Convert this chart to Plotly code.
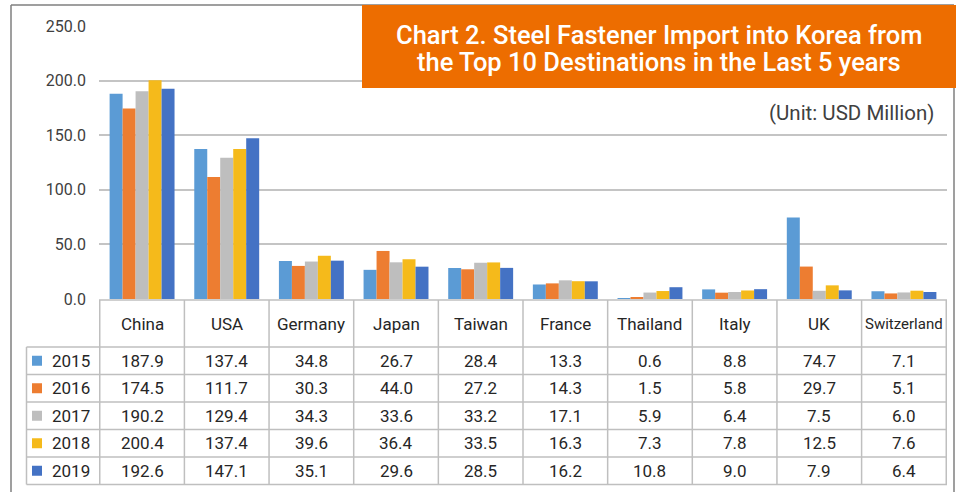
import plotly.graph_objects as go

categories = ["China", "USA", "Germany", "Japan", "Taiwan", "France",
              "Thailand", "Italy", "UK", "Switzerland"]
years = ["2015", "2016", "2017", "2018", "2019"]
v2015 = [187.9, 137.4, 34.8, 26.7, 28.4, 13.3, 0.6, 8.8, 74.7, 7.1]
v2016 = [174.5, 111.7, 30.3, 44.0, 27.2, 14.3, 1.5, 5.8, 29.7, 5.1]
v2017 = [190.2, 129.4, 34.3, 33.6, 33.2, 17.1, 5.9, 6.4, 7.5, 6.0]
v2018 = [200.4, 137.4, 39.6, 36.4, 33.5, 16.3, 7.3, 7.8, 12.5, 7.6]
v2019 = [192.6, 147.1, 35.1, 29.6, 28.5, 16.2, 10.8, 9.0, 7.9, 6.4]
series = [v2015, v2016, v2017, v2018, v2019]
colors = ["#5B9BD5", "#ED7D31", "#BEBEBE", "#F5BA1B", "#4472C4"]
y_ticks = [0, 50, 100, 150, 200, 250]
title_lines = ["Chart 2. Steel Fastener Import into Korea from",
               "the Top 10 Destinations in the Last 5 years"]
unit_text = "(Unit: USD Million)"

W, H = 959, 492
ML, MR, MT, MB = 99, 12, 26, 193
PW = W - ML - MR
PH = H - MT - MB
FONT = "Roboto"
TXT = "#262626"
GRID = "#C4C4C4"


def px(xp):
    return (xp - ML) / PW


def py(yp):
    return (H - MB - yp) / PH


fig = go.Figure()
for yr, vals, c in zip(years, series, colors):
    fig.add_trace(go.Bar(x=categories, y=vals, name=yr, marker_color=c,
                         marker_line_width=0, hoverinfo="skip"))

shapes = []
annotations = []

header_top = 300
row_lines = [347, 374.5, 402, 429.5, 457, 484.5]
label_left = 26.5
lc = dict(color="#BFBFBF", width=1.5)

shapes.append(dict(type="line", xref="paper", yref="paper", x0=0, x1=1,
                   y0=py(header_top), y1=py(header_top), line=lc))
for r in row_lines:
    shapes.append(dict(type="line", xref="paper", yref="paper", x0=px(label_left), x1=1,
                       y0=py(r), y1=py(r), line=lc))
n = len(categories)
for i in range(n + 1):
    shapes.append(dict(type="line", xref="x", yref="paper", x0=i - 0.5, x1=i - 0.5,
                       y0=py(header_top), y1=py(row_lines[-1]), line=lc))
shapes.append(dict(type="line", xref="paper", yref="paper", x0=px(label_left), x1=px(label_left),
                   y0=py(row_lines[0]), y1=py(row_lines[-1]), line=lc))

for cat in categories:
    annotations.append(dict(x=cat, xref="x", y=py((header_top + row_lines[0]) / 2), yref="paper",
                            text=cat, showarrow=False,
                            font=dict(family=FONT, size=15 if cat == "Switzerland" else 17, color=TXT),
                            xanchor="center", yanchor="middle"))
for k, (yr, vals, c) in enumerate(zip(years, series, colors)):
    yc = (row_lines[k] + row_lines[k + 1]) / 2
    shapes.append(dict(type="rect", xref="paper", yref="paper",
                       x0=px(32), x1=px(42), y0=py(yc + 5), y1=py(yc - 5),
                       fillcolor=c, line=dict(width=0)))
    annotations.append(dict(x=px(71), xref="paper", y=py(yc), yref="paper", text=yr,
                            showarrow=False, font=dict(family=FONT, size=17, color=TXT),
                            xanchor="center", yanchor="middle"))
    for cat, v in zip(categories, vals):
        annotations.append(dict(x=cat, xref="x", y=py(yc), yref="paper", text=f"{v:.1f}",
                                showarrow=False, font=dict(family=FONT, size=17, color=TXT),
                                xanchor="center", yanchor="middle"))

fr = dict(color="#7F7F7F", width=1.5)
shapes.append(dict(type="line", xref="paper", yref="paper", x0=px(11), x1=px(11), y0=py(5), y1=py(H + 5), line=fr))
shapes.append(dict(type="line", xref="paper", yref="paper", x0=px(11), x1=px(954), y0=py(5), y1=py(5), line=fr))
shapes.append(dict(type="line", xref="paper", yref="paper", x0=px(954), x1=px(954), y0=py(5), y1=py(H + 5), line=fr))

shapes.append(dict(type="rect", xref="paper", yref="paper", x0=px(362), x1=px(956),
                   y0=py(88), y1=py(5), fillcolor="#ED6D00", line=dict(width=0), layer="above"))
for line_txt, yl in zip(title_lines, [35, 62]):
    annotations.append(dict(x=px(659), xref="paper", y=py(yl), yref="paper", text=line_txt,
                            showarrow=False, font=dict(family=FONT, size=25.5, color="white", weight=500),
                            xanchor="center", yanchor="middle", align="center"))
annotations.append(dict(x=px(936), xref="paper", y=py(113), yref="paper", text=unit_text,
                        showarrow=False, font=dict(family=FONT, size=20.5, color="#404040"),
                        xanchor="right", yanchor="middle"))

fig.update_layout(
    width=W, height=H,
    margin=dict(l=ML, r=MR, t=MT, b=MB, pad=0),
    paper_bgcolor="white", plot_bgcolor="white",
    barmode="group", bargap=0.233, bargroupgap=0,
    showlegend=False,
    xaxis=dict(showticklabels=False, showgrid=False, zeroline=False, showline=False, ticks=""),
    yaxis=dict(range=[0, 250], tickvals=y_ticks, ticktext=[f"{t:.1f}" for t in y_ticks],
               showgrid=True, gridcolor=GRID, gridwidth=1.5, zeroline=False, showline=False,
               ticks="", ticklabelstandoff=12,
               tickfont=dict(family=FONT, size=16, color="#404040")),
    shapes=shapes, annotations=annotations,
)

fig.write_html("out.html", config={"displayModeBar": False},
               post_script="document.body.style.margin='0px';")
